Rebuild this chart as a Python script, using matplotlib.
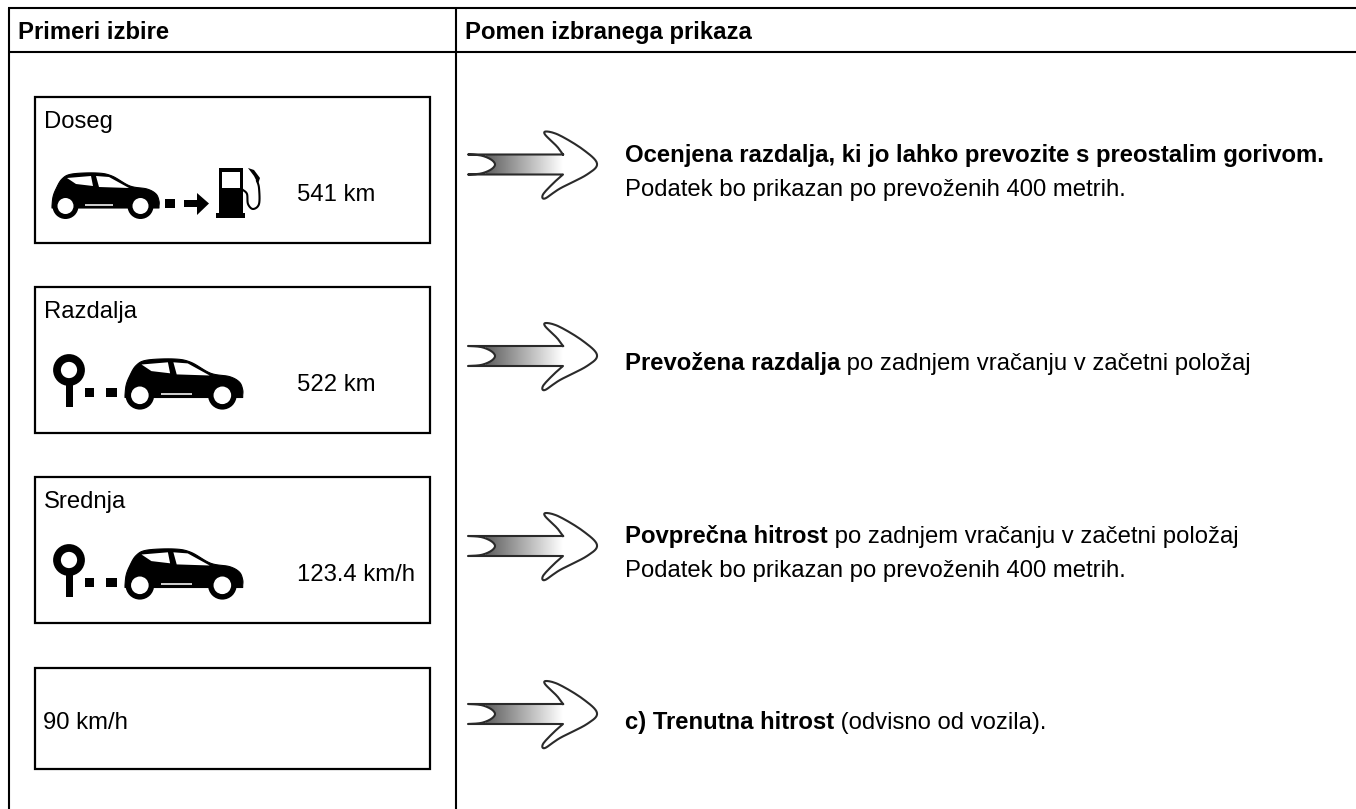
"""Table of trip computer display examples and their meaning."""

import matplotlib
matplotlib.use("Agg")
import matplotlib.pyplot as plt
import numpy as np
from matplotlib.patches import Circle, Polygon, Rectangle

plt.rcParams["font.family"] = ["Liberation Sans", "DejaVu Sans"]

W, H = 1356, 809
FS = 17.2

headers = ["Primeri izbire", "Pomen izbranega prikaza"]
titles = ["Doseg", "Razdalja", "Srednja", ""]
values = ["541 km", "522 km", "123.4 km/h", "90 km/h"]
bold_parts = [
    "Ocenjena razdalja, ki jo lahko prevozite s preostalim gorivom.",
    "Prevožena razdalja",
    "Povprečna hitrost",
    "c) Trenutna hitrost",
]
normal_parts = [
    "",
    " po zadnjem vračanju v začetni položaj",
    " po zadnjem vračanju v začetni položaj",
    " (odvisno od vozila).",
]
second_lines = [
    "Podatek bo prikazan po prevoženih 400 metrih.",
    "",
    "Podatek bo prikazan po prevoženih 400 metrih.",
    "",
]

fig = plt.figure(figsize=(W / 100, H / 100), dpi=100)
ax = fig.add_axes([0, 0, 1, 1])
ax.set_xlim(0, W)
ax.set_ylim(H, 0)
ax.axis("off")


def smooth(pts, n=8, closed=False):
    # Catmull-Rom through the traced points
    p = np.array(pts, dtype=float)
    if closed:
        p = np.vstack([p[-1], p, p[0], p[1]])
    else:
        p = np.vstack([p[0], p, p[-1]])
    out = []
    for i in range(1, len(p) - 2):
        for t in np.linspace(0, 1, n, endpoint=False):
            a = 2 * p[i] + (p[i + 1] - p[i - 1]) * t
            b = (2 * p[i - 1] - 5 * p[i] + 4 * p[i + 1] - p[i + 2]) * t ** 2
            c = (3 * p[i] - p[i - 1] - 3 * p[i + 1] + p[i + 2]) * t ** 3
            out.append(0.5 * (a + b + c))
    out.append(p[-2])
    return np.array(out)


def hline(y, x0, x1, lw=1.5):
    ax.plot([x0, x1], [y, y], color="black", lw=lw, solid_capstyle="butt")


def vline(x, y0, y1, lw=1.5):
    ax.plot([x, x], [y0, y1], color="black", lw=lw, solid_capstyle="butt")


def car(x, y, s=1.0):
    # outline, x/y in px from the icon's top left
    top = [(0, 33), (1, 24), (4, 16), (10, 6), (20, 1), (45, 0), (60, 3), (78, 13), (95, 16), (104, 21), (107, 28),
           (107, 33)]
    body = np.vstack([smooth(top), [(107, 35), (0, 35)]])
    ax.add_patch(Polygon(body * s + (x, y), fc="black", ec="black", lw=0.8, joinstyle="round"))
    rear = [(15, 5), (39, 3), (41, 13), (24, 11)]
    front = [(44, 3), (57, 4), (77, 15), (47, 14)]
    for win in (rear, front):
        ax.add_patch(Polygon(np.array(win) * s + (x, y), fc="white", ec="none"))
    ax.add_patch(Rectangle((x + 33 * s, y + 31 * s), 28 * s, 1.8, fc="#cccccc", ec="none"))
    for cx in (13.5, 88.5):
        ax.add_patch(Circle((x + cx * s, y + 33 * s), 13 * s, fc="black", ec="none"))
        ax.add_patch(Circle((x + cx * s, y + 33 * s), 8 * s, fc="white", ec="none"))


def pump_icon(x, y):
    # small square + arrow, then the fuel pump
    ax.add_patch(Rectangle((x, y + 33), 10, 9, fc="black", ec="none"))
    ax.add_patch(Polygon([(x + 19, y + 34), (x + 32, y + 34), (x + 32, y + 27), (x + 44, y + 37.5),
                          (x + 32, y + 49), (x + 32, y + 41), (x + 19, y + 41)], fc="black", ec="none"))
    px = x + 51
    ax.add_patch(Rectangle((px + 3, y + 2), 24, 47, fc="black", ec="none"))
    ax.add_patch(Rectangle((px + 6, y + 6), 18, 16, fc="white", ec="none"))
    ax.add_patch(Rectangle((px, y + 47), 29, 5, fc="black", ec="none"))
    hose = smooth([(px + 27, y + 24), (px + 31, y + 28), (px + 32, y + 38), (px + 37, y + 43),
                   (px + 43, y + 38), (px + 43, y + 22), (px + 41, y + 15)])
    ax.plot(hose[:, 0], hose[:, 1], color="black", lw=1.5)
    ax.add_patch(Polygon([(px + 32, y + 2), (px + 38, y + 4), (px + 44, y + 12), (px + 42, y + 18), (px + 38, y + 10)],
                         fc="black", ec="none"))


def pin_icon(x, y):
    # circle on a stem with two dots, drawn left of the car
    ax.add_patch(Circle((x + 16, y + 16), 12, fc="white", ec="black", lw=5.6))
    ax.add_patch(Rectangle((x + 13, y + 30), 7, 23, fc="black", ec="none"))
    ax.add_patch(Rectangle((x + 32, y + 34), 9, 9, fc="black", ec="none"))
    ax.add_patch(Rectangle((x + 53, y + 34), 11, 9, fc="black", ec="none"))


def arrow(cy):
    # gradient shaft with a notched tail and an open head
    x0 = 468
    head = smooth([(95, -10), (89, -18), (77, -30), (79, -33), (92, -29), (115, -15), (129, -1), (119, 10), (92, 24),
                   (77, 34), (75, 30), (85, 19), (95, 10)])
    notch = smooth([(0, 10), (13, 9), (23, 5), (27, 0), (23, -5), (13, -9), (0, -10)])
    outline = np.vstack([head, notch]) + (x0, cy)
    patch = Polygon(outline, closed=True, fc="none", ec="none")
    ax.add_patch(patch)
    grad = np.linspace(0, 1, 256).reshape(1, -1)
    im = ax.imshow(grad, cmap="gray", vmin=-0.6, vmax=1.0, aspect="auto",
                   extent=(x0 + 18, x0 + 95, cy + 10, cy - 10), zorder=1)
    im.set_clip_path(patch)
    closed = np.vstack([outline, outline[:1]])
    ax.plot(closed[:, 0], closed[:, 1], color="#2a2a2a", lw=1.5, solid_joinstyle="round", zorder=2)


def mixed(x, y, bold, normal):
    t = ax.text(x, y, bold, fontsize=FS, fontweight="bold", va="baseline", color="black")
    ext = t.get_window_extent(fig.canvas.get_renderer())
    if normal:
        ax.text(ext.x1, y, normal, fontsize=FS, va="baseline", color="black")


# table frame
hline(8, 8, W)
hline(52, 8, W)
vline(9, 8, H)
vline(455.5, 8, H)

ax.text(18, 39, headers[0], fontsize=FS, fontweight="bold", va="baseline", color="black")
ax.text(465, 39, headers[1], fontsize=FS, fontweight="bold", va="baseline", color="black")

box_tops = [97, 287, 477, 668]
box_bottoms = [243, 433, 623, 769]
arrow_ys = [164.5, 356, 546, 714]
text_ys = [162, 370, 543, 729]

for i in range(4):
    ax.add_patch(Rectangle((34.5, box_tops[i]), 395, box_bottoms[i] - box_tops[i], fc="white", ec="black", lw=1.6))
    if titles[i]:
        ax.text(44, box_tops[i] + 31, titles[i], fontsize=FS, va="baseline", color="black")
    vx = 297 if i < 3 else 43
    vy = box_tops[i] + 104 if i < 3 else 729
    ax.text(vx, vy, values[i], fontsize=FS, va="baseline", color="black")
    arrow(arrow_ys[i])
    mixed(625, text_ys[i], bold_parts[i], normal_parts[i])
    if second_lines[i]:
        ax.text(625, text_ys[i] + 34, second_lines[i], fontsize=FS, va="baseline", color="black")

car(52, 173)
pump_icon(165, 166)
for top in (box_tops[1], box_tops[2]):
    pin_icon(53, top + 67)
    car(125, top + 72, 1.1)

fig.savefig("out.png", dpi=100)
